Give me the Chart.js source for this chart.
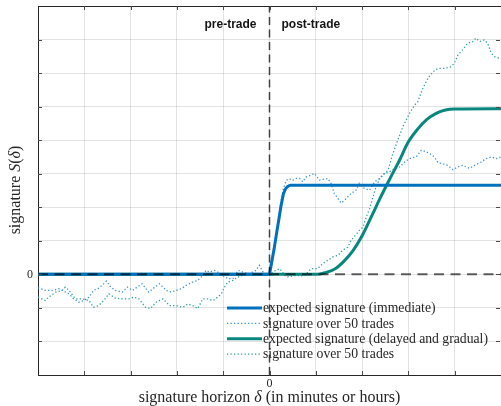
<!DOCTYPE html>
<html>
<head>
<meta charset="utf-8">
<script src="https://cdn.jsdelivr.net/npm/chart.js@4"></script>
<style>
  html, body { margin: 0; padding: 0; background: #fff; }
  canvas { display: block; }
</style>
</head>
<body>
<canvas id="chart" width="501" height="406"></canvas>
<script>
// Horizon axis (delta) and signature axis limits
const horizonRange = [-5, 5];
const signatureRange = [-3, 8];
const xTickLabels = { 0: '0' };
const yTickLabels = { 0: '0' };

// Expected signature, immediate impact
const immediateX = [-5, 0, 0.05, 0.1, 0.15, 0.2, 0.25, 0.3, 0.35, 0.4, 0.45, 5];
const immediateY = [0, 0, 0.38, 0.76, 1.2, 1.62, 2.05, 2.4, 2.56, 2.63, 2.66, 2.66];

// Signature measured over 50 trades (immediate)
const immediateTradesX = [-5.0, -4.84, -4.69, -4.55, -4.33, -4.23, -4.12, -4.01, -3.90, -3.80, -3.69, -3.58, -3.52, -3.43, -3.33, -3.18, -3.07, -2.96, -2.86, -2.75, -2.61, -2.52, -2.38, -2.30, -2.23, -2.12, -2.02, -1.91, -1.80, -1.66, -1.55, -1.44, -1.37, -1.30, -1.19, -1.12, -1.01, -0.90, -0.79, -0.68, -0.58, -0.43, -0.29, -0.22, -0.14, -0.07, 0.0, 0.05, 0.1, 0.15, 0.2, 0.25, 0.3, 0.36, 0.43, 0.50, 0.58, 0.65, 0.72, 0.79, 0.90, 0.97, 1.08, 1.19, 1.26, 1.33, 1.40, 1.48, 1.55, 1.62, 1.69, 1.76, 1.87, 1.94, 2.05, 2.16, 2.27, 2.38, 2.48, 2.59, 2.70, 2.81, 2.92, 3.02, 3.17, 3.28, 3.38, 3.46, 3.56, 3.64, 3.74, 3.85, 3.96, 4.07, 4.17, 4.32, 4.43, 4.57, 4.68, 4.79, 4.90, 5.0];
const immediateTradesY = [-0.40, -0.48, -0.48, -0.43, -0.58, -0.73, -0.83, -0.78, -0.68, -0.48, -0.41, -0.28, -0.20, -0.38, -0.48, -0.53, -0.38, -0.48, -0.38, -0.28, -0.53, -0.43, -0.28, -0.38, -0.48, -0.53, -0.48, -0.43, -0.33, -0.23, -0.18, -0.03, 0.12, 0.07, 0.12, 0.07, -0.03, -0.13, -0.13, 0.12, 0.07, 0.02, 0.12, 0.27, 0.07, -0.03, 0.0, 0.3, 0.8, 1.3, 1.75, 2.2, 2.55, 2.8, 2.85, 2.80, 2.86, 2.86, 2.76, 2.90, 2.96, 3.01, 2.81, 2.84, 2.86, 2.71, 2.41, 2.26, 2.13, 2.21, 2.31, 2.41, 2.51, 2.71, 2.56, 2.51, 2.76, 2.86, 3.01, 3.05, 3.16, 3.20, 3.35, 3.45, 3.50, 3.70, 3.66, 3.60, 3.50, 3.33, 3.30, 3.25, 3.12, 3.20, 3.25, 3.16, 3.25, 3.35, 3.45, 3.50, 3.45, 3.50];

// Expected signature, delayed and gradual impact
const delayedX = [-5, 1.0, 1.2, 1.4, 1.6, 1.8, 2.0, 2.2, 2.4, 2.6, 2.8, 3.0, 3.2, 3.4, 3.6, 3.8, 4.0, 5];
const delayedY = [0, 0, 0.05, 0.15, 0.38, 0.7, 1.15, 1.72, 2.3, 2.85, 3.38, 3.95, 4.33, 4.62, 4.8, 4.9, 4.93, 4.94];

// Signature measured over 50 trades (delayed and gradual)
const delayedTradesX = [-5.0, -4.84, -4.77, -4.62, -4.48, -4.41, -4.33, -4.19, -4.05, -3.90, -3.80, -3.69, -3.58, -3.47, -3.33, -3.18, -3.04, -2.93, -2.82, -2.68, -2.57, -2.45, -2.30, -2.16, -2.02, -1.87, -1.76, -1.66, -1.55, -1.44, -1.33, -1.22, -1.12, -1.04, -0.97, -0.90, -0.79, -0.68, -0.58, -0.43, -0.29, -0.14, -0.04, 0.14, 0.22, 0.36, 0.58, 0.75, 0.90, 1.04, 1.15, 1.26, 1.37, 1.48, 1.58, 1.69, 1.76, 1.87, 1.94, 2.02, 2.09, 2.16, 2.23, 2.30, 2.38, 2.48, 2.56, 2.66, 2.77, 2.88, 3.02, 3.13, 3.20, 3.31, 3.42, 3.53, 3.64, 3.78, 3.92, 3.99, 4.07, 4.17, 4.28, 4.39, 4.46, 4.54, 4.64, 4.71, 4.79, 4.86, 4.97];
const delayedTradesY = [-0.68, -0.78, -0.68, -0.53, -0.48, -0.38, -0.48, -0.73, -0.73, -0.78, -0.98, -0.93, -0.78, -0.58, -0.71, -0.73, -0.73, -0.68, -0.73, -0.98, -1.02, -0.83, -0.73, -0.93, -0.93, -0.98, -0.88, -0.93, -1.02, -0.73, -0.73, -0.78, -0.68, -0.58, -0.38, -0.23, -0.18, -0.08, -0.03, -0.03, 0.02, 0.02, -0.03, 0.12, 0.17, -0.08, -0.03, -0.05, 0.17, 0.17, 0.32, 0.42, 0.52, 0.57, 0.72, 0.81, 1.01, 1.19, 1.31, 1.41, 1.71, 1.95, 2.28, 2.61, 2.85, 3.0, 3.10, 3.58, 4.00, 4.40, 4.79, 5.04, 5.14, 5.54, 5.84, 6.04, 6.14, 6.14, 6.19, 6.29, 6.54, 6.69, 6.89, 6.94, 7.04, 6.94, 6.99, 6.89, 6.59, 6.49, 6.44];

// Reference lines: zero signature and trade time
const zeroLineX = [-5, 5];
const zeroLineY = [0, 0];
const tradeTimeX = [0, 0];
const tradeTimeY = [-3, 8];

const legendLabels = [
  'expected signature (immediate)',
  'signature over 50 trades',
  'expected signature (delayed and gradual)',
  'signature over 50 trades'
];
const phaseLabels = ['pre-trade', 'post-trade'];

const BLUE = '#0072BD';
const BLUE_LIGHT = '#3d93d6';
const TEAL = '#08877f';
const TEAL_LIGHT = '#2ea39b';
const INK = '#262626';
const SERIF = "'Liberation Serif', 'Times New Roman', serif";

// Target plot frame inside the 501x406 canvas
const FRAME = { left: 38, top: 6, right: 501, bottom: 375 };

const toPoints = (xs, ys) => xs.map((x, i) => ({ x, y: ys[i] }));

const datasets = [
  { label: 'zero', data: toPoints(zeroLineX, zeroLineY), borderColor: 'rgba(0,0,0,0.62)', borderWidth: 2, borderDash: [10, 6.5], order: 0 },
  { label: 'trade', data: toPoints(tradeTimeX, tradeTimeY), borderColor: 'rgba(0,0,0,0.72)', borderWidth: 1.5, borderDash: [8, 4.5], order: 0 },
  { label: legendLabels[0], data: toPoints(immediateX, immediateY), borderColor: BLUE, borderWidth: 3, order: 1, legendIndex: 0 },
  { label: legendLabels[1], data: toPoints(immediateTradesX, immediateTradesY), borderColor: BLUE_LIGHT, borderWidth: 1.3, borderDash: [1.3, 2.2], order: 2, legendIndex: 1 },
  { label: legendLabels[2], data: toPoints(delayedX, delayedY), borderColor: TEAL, borderWidth: 3, cubicInterpolationMode: 'monotone', order: 1, legendIndex: 2 },
  { label: legendLabels[3], data: toPoints(delayedTradesX, delayedTradesY), borderColor: TEAL_LIGHT, borderWidth: 1.3, borderDash: [1.3, 2.2], order: 2, legendIndex: 3 }
];
datasets.forEach(d => { d.pointRadius = 0; d.fill = false; d.tension = 0; });

// Draw a run of text pieces with individual font styles, centred on x
function drawRich(ctx, parts, size, x, y) {
  const fontOf = style => `${style} ${size}px ${SERIF}`;
  let total = 0;
  parts.forEach(([t, s]) => { ctx.font = fontOf(s); total += ctx.measureText(t).width; });
  let cx = x - total / 2;
  ctx.textAlign = 'left';
  parts.forEach(([t, s]) => {
    ctx.font = fontOf(s);
    ctx.fillText(t, cx, y);
    cx += ctx.measureText(t).width;
  });
}

const decorations = {
  id: 'decorations',
  afterDatasetsDraw(chart) {
    const { ctx, chartArea: a, scales: { x, y } } = chart;
    ctx.save();
    // frame: top edge (left and bottom come from the axis borders)
    ctx.strokeStyle = INK;
    ctx.lineWidth = 1;
    ctx.beginPath();
    ctx.moveTo(a.left, Math.round(a.top) + 0.5);
    ctx.lineTo(a.right, Math.round(a.top) + 0.5);
    ctx.stroke();
    // inward tick marks on all sides
    ctx.strokeStyle = '#4a4a4a';
    ctx.beginPath();
    for (let v = horizonRange[0] + 1; v < horizonRange[1]; v++) {
      const px = Math.round(x.getPixelForValue(v)) + 0.5;
      ctx.moveTo(px, a.bottom); ctx.lineTo(px, a.bottom - 4);
      ctx.moveTo(px, a.top); ctx.lineTo(px, a.top + 4);
    }
    for (let v = signatureRange[0] + 1; v < signatureRange[1]; v++) {
      const py = Math.round(y.getPixelForValue(v)) + 0.5;
      ctx.moveTo(a.left, py); ctx.lineTo(a.left + 4, py);
      ctx.moveTo(a.right - 1, py); ctx.lineTo(a.right - 5, py);
    }
    ctx.stroke();

    // tick labels (only the origin is labelled)
    ctx.fillStyle = INK;
    ctx.font = `12px ${SERIF}`;
    ctx.textBaseline = 'middle';
    Object.keys(xTickLabels).forEach(v => {
      ctx.textAlign = 'center';
      ctx.fillText(xTickLabels[v], x.getPixelForValue(+v), a.bottom + 9);
    });
    Object.keys(yTickLabels).forEach(v => {
      ctx.textAlign = 'right';
      ctx.fillText(yTickLabels[v], a.left - 5, y.getPixelForValue(+v));
    });

    // phase labels either side of the trade time
    const x0 = x.getPixelForValue(0);
    ctx.fillStyle = '#141414';
    ctx.font = "bold 12px 'Liberation Sans', Arial, sans-serif";
    ctx.textBaseline = 'middle';
    ctx.textAlign = 'right';
    ctx.fillText(phaseLabels[0], x0 - 13, a.top + 19);
    ctx.textAlign = 'left';
    ctx.fillText(phaseLabels[1], x0 + 12, a.top + 19);

    // legend inside the plot, no frame
    const rows = datasets.filter(d => d.legendIndex !== undefined).sort((p, q) => p.legendIndex - q.legendIndex);
    const lx0 = 227, lx1 = 262, rowTop = 308, rowGap = 15.4;
    ctx.fillStyle = INK;
    ctx.font = `13.7px ${SERIF}`;
    ctx.textBaseline = 'middle';
    ctx.textAlign = 'left';
    rows.forEach((d, i) => {
      const ry = rowTop + i * rowGap;
      ctx.save();
      ctx.strokeStyle = d.borderColor;
      ctx.lineWidth = d.borderWidth;
      ctx.setLineDash(d.borderDash || []);
      ctx.beginPath();
      ctx.moveTo(lx0, ry); ctx.lineTo(lx1, ry);
      ctx.stroke();
      ctx.restore();
      ctx.fillText(d.label, lx1 + 1, ry + 0.5);
    });

    // axis titles
    ctx.fillStyle = INK;
    ctx.textBaseline = 'alphabetic';
    drawRich(ctx, [['signature horizon ', 'normal'], ['δ', 'italic'], [' (in minutes or hours)', 'normal']], 16, (a.left + a.right) / 2, 402);
    ctx.save();
    ctx.translate(20, 190);
    ctx.rotate(-Math.PI / 2);
    drawRich(ctx, [['signature ', 'normal'], ['S', 'italic'], ['(', 'normal'], ['δ', 'italic'], [')', 'normal']], 16, 0, 0);
    ctx.restore();
    ctx.restore();
  }
};

const chart = new Chart(document.getElementById('chart'), {
  type: 'line',
  data: { datasets },
  options: {
    responsive: false,
    animation: false,
    devicePixelRatio: 1,
    layout: { padding: { top: FRAME.top, right: 0, left: 0, bottom: 0 } },
    plugins: { legend: { display: false }, tooltip: { enabled: false } },
    scales: {
      x: {
        type: 'linear',
        min: horizonRange[0],
        max: horizonRange[1],
        afterFit: s => { s.height = 406 - FRAME.bottom; s.paddingLeft = 0; s.paddingRight = 0; },
        border: { display: true, color: INK, width: 1 },
        grid: { color: 'rgba(0,0,0,0.11)', drawTicks: false },
        ticks: { display: false, stepSize: 1, autoSkip: false }
      },
      y: {
        type: 'linear',
        min: signatureRange[0],
        max: signatureRange[1],
        afterFit: s => { s.width = FRAME.left; s.paddingTop = 0; s.paddingBottom = 0; },
        border: { display: true, color: INK, width: 1 },
        grid: { color: 'rgba(0,0,0,0.11)', drawTicks: false },
        ticks: { display: false, stepSize: 1, autoSkip: false }
      }
    }
  },
  plugins: [decorations]
});
</script>
</body>
</html>
